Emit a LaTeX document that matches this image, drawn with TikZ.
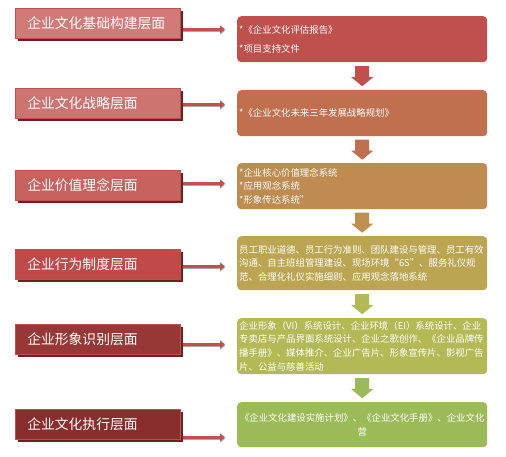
\documentclass[tikz,border=0pt]{standalone}
\usepackage{fontspec}
\setmainfont{Noto Sans CJK SC}
\usepackage{tikz}
\usetikzlibrary{arrows.meta,positioning,shadows,calc}
\definecolor{layerA}{HTML}{D27A77}
\definecolor{layerB}{HTML}{CD7370}
\definecolor{layerC}{HTML}{C7625F}
\definecolor{layerD}{HTML}{C0494A}
\definecolor{layerE}{HTML}{983836}
\definecolor{layerF}{HTML}{892E2C}
\definecolor{layerline}{HTML}{C0504D}
\definecolor{layershade}{HTML}{6A2321}
\definecolor{itemA}{HTML}{C0504D}
\definecolor{itemB}{HTML}{C0704F}
\definecolor{itemC}{HTML}{BF8B50}
\definecolor{itemD}{HTML}{BCA552}
\definecolor{itemE}{HTML}{B3B955}
\definecolor{itemF}{HTML}{9BBB59}
\definecolor{linkred}{HTML}{C0504D}
\definecolor{linkshade}{HTML}{A8A8A8}
\tikzset{
  layercard/.style={draw=layerline,line width=0.6pt,anchor=north west,
                    minimum width=165pt,minimum height=30pt,text width=141pt,
                    inner xsep=12pt,inner ysep=0pt,align=left,text=white,
                    font=\fontsize{13.8}{16}\selectfont,
                    drop shadow={shadow xshift=2.2pt,shadow yshift=-2.2pt,
                                 fill=layershade,opacity=1}},
  itemcard/.style={rounded corners=4pt,anchor=north west,minimum width=250pt,
                   text width=246pt,inner xsep=2pt,inner ysep=0pt,align=left,
                   text=white,font=\fontsize{9.4}{13.7}\selectfont},
  linkarr/.style={-{Triangle[length=5pt,width=7.5pt]},line width=3.5pt,
                  draw=linkred,
                  preaction={draw=linkshade,transform canvas={yshift=-1.5pt}}},
  downarr/.pic={\fill[pic actions] (-7,-10) -- (7,-10) -- (7,1) -- (11,1)
                  -- (0,10) -- (-11,1) -- (-7,1) -- cycle;}
}
\begin{document}
\begin{tikzpicture}[x=1pt,y=-1pt]
    \path[use as bounding box] (0,0) rectangle (506,456);
    % layer labels
    \node[layercard,fill=layerA] (L1) at (15,8) {企业文化基础构建层面};
    \node[layercard,fill=layerB] (L2) at (15,88) {企业文化战略层面};
    \node[layercard,fill=layerC] (L3) at (15,170) {企业价值理念层面};
    \node[layercard,fill=layerD] (L4) at (15,249) {企业行为制度层面};
    \node[layercard,fill=layerE] (L5) at (15,324) {企业形象识别层面};
    \node[layercard,fill=layerF] (L6) at (15,409) {企业文化执行层面};
    % contents
    \node[itemcard,fill=itemA,minimum height=46pt] (R1) at (237,16)
      {*《企业文化评估报告》\\[5pt]*项目支持文件};
    \node[itemcard,fill=itemB,minimum height=46pt] (R2) at (237,90)
      {*《企业文化未来三年发展战略规划》};
    \node[itemcard,fill=itemC,minimum height=46pt] (R3) at (237,163)
      {*企业核心价值理念系统\\{}*应用观念系统\\{}*形象传达系统”};
    \node[itemcard,fill=itemD,minimum height=54pt] (R4) at (237,236)
      {员工职业道德、员工行为准则、团队建设与管理、员工有效\\
       沟通、自主班组管理建设、现场环境“6S”、服务礼仪规\\
       范、合理化礼仪实施细则、应用观念落地系统};
    \node[itemcard,fill=itemE,minimum height=56pt] (R5) at (237,318)
      {企业形象（VI）系统设计、企业环境（EI）系统设计、企业\\
       专卖店与产品界面系统设计、企业之歌创作、《企业品牌传\\
       播手册》、媒体推介、企业广告片、形象宣传片、影视广告\\
       片、公益与慈善活动};
    \node[itemcard,fill=itemF,minimum height=45pt,align=center] (R6) at (237,402)
      {《企业文化建设实施计划》、《企业文化手册》、企业文化\\营};
    % flow between contents
    \coordinate (D1) at ($(R1.south)!0.5!(R2.north)$);
    \coordinate (D2) at ($(R2.south)!0.5!(R3.north)$);
    \coordinate (D3) at ($(R3.south)!0.5!(R4.north)$);
    \coordinate (D4) at ($(R4.south)!0.5!(R5.north)$);
    \coordinate (D5) at ($(R5.south)!0.5!(R6.north)$);
    \pic[fill=itemA] at (D1) {downarr};
    \pic[fill=itemB] at (D2) {downarr};
    \pic[fill=itemC!85!itemD] at (D3) {downarr};
    \pic[fill=itemE] at (D4) {downarr};
    \pic[fill=itemF] at (D5) {downarr};
    % links
    \draw[linkarr] ($(L1.east)+(2,6)$) -- ($(L1.east -| R1.west)+(-12,6)$);
    \draw[linkarr] ($(L2.east)+(2,1)$) -- ($(L2.east -| R2.west)+(-12,1)$);
    \draw[linkarr] ($(L3.east)+(2,-2)$) -- ($(L3.east -| R3.west)+(-12,-2)$);
    \draw[linkarr] ($(L4.east)+(2,2)$) -- ($(L4.east -| R4.west)+(-12,2)$);
    \draw[linkarr] ($(L5.east)+(2,5)$) -- ($(L5.east -| R5.west)+(-12,5)$);
    \draw[linkarr] ($(L6.east)+(2,13)$) -- ($(L6.east -| R6.west)+(-12,13)$);
  \end{tikzpicture}
\end{document}
